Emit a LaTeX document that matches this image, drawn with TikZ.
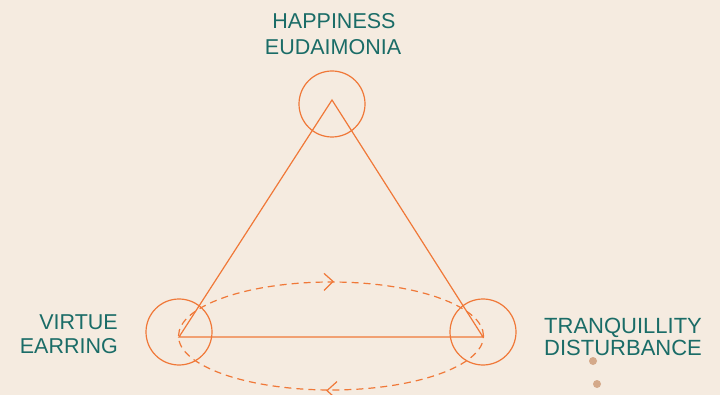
\documentclass[tikz,border=0pt]{standalone}
\usepackage{fontspec}
\setmainfont{Liberation Sans}
\usetikzlibrary{shapes.geometric,calc}
\definecolor{bgc}{HTML}{F5EBE0}
\definecolor{orng}{HTML}{F07838}
\definecolor{tealtxt}{HTML}{1A6C67}
\definecolor{dotc}{HTML}{D4A98A}
\begin{document}
\begin{tikzpicture}[x=1pt,y=-1pt,
  ring/.style={draw=orng,line width=1.2pt,circle,minimum size=66pt,inner sep=0pt},
  edge/.style={draw=orng,line width=1.2pt},
  cyclepath/.style={draw=orng,line width=1.2pt,dash pattern=on 7pt off 5pt,ellipse,minimum width=305pt,minimum height=108pt,inner sep=0pt},
  chev/.style={draw=orng,line width=1.2pt},
  lbl/.style={text=tealtxt,font=\fontsize{21.5}{25}\selectfont,inner sep=0pt},
  dotm/.style={fill=dotc,circle,minimum size=8pt,inner sep=0pt}]
\fill[bgc] (0,0) rectangle (720,395);
\useasboundingbox (0,0) rectangle (720,395);
% vertices
\coordinate (vt) at (332,100);
\coordinate (vl) at (179,337);
\coordinate (vr) at (483,337);
% circles
\node[ring] (ct) at (332,104) {};
\node[ring] (cl) at (179,332) {};
\node[ring] (cr) at (483,332) {};
% triangle
\draw[edge] (vt) -- (vl) -- (vr) -- cycle;
% ellipse cycle
\node[cyclepath] (cyc) at (331,336) {};
\coordinate (ctop) at ($(cyc.north)+(2,0)$);
\coordinate (cbot) at ($(cyc.south)+(-4,0)$);
\draw[chev] ($(ctop)+(-9,-8)$) -- (ctop) -- ($(ctop)+(-9,9)$);
\draw[chev] ($(cbot)+(10,-9)$) -- (cbot) -- ($(cbot)+(10,9)$);
% labels
\node[lbl,anchor=base] (h1) at (334,29) {HAPPINESS};
\node[lbl,anchor=base] (h2) at (333,55) {EUDAIMONIA};
\node[lbl,anchor=base east] (v1) at (118,329) {VIRTUE};
\node[lbl,anchor=base east] (v2) at (118,353) {EARRING};
\node[lbl,anchor=base west,font=\fontsize{22}{25}\selectfont] (t1) at (544,333) {TRANQUILLITY};
\node[lbl,anchor=base west,font=\fontsize{22}{25}\selectfont] (t2) at (544,355) {DISTURBANCE};
% dots
\node[dotm] (d1) at (593,361) {};
\node[dotm] (d2) at (597,384) {};
\end{tikzpicture}
\end{document}
